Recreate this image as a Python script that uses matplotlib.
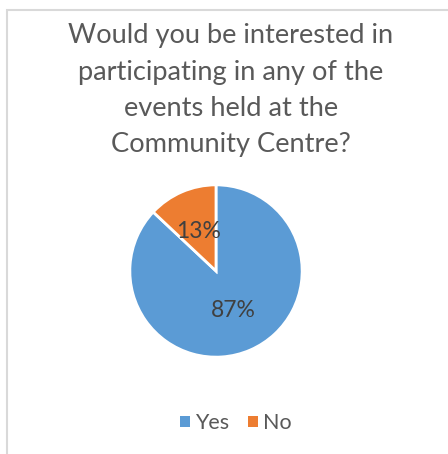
import matplotlib
matplotlib.use("Agg")
import matplotlib.pyplot as plt
from matplotlib.patches import Patch, Rectangle

labels = ["Yes", "No"]
values = [87, 13]
colors = ["#5B9BD5", "#ED7D31"]
title_lines = ["Would you be interested in",
               "participating in any of the",
               "events held at the",
               "Community Centre?"]

W, H = 448, 454
plt.rcParams['font.family'] = ['Lato', 'DejaVu Sans']

fig = plt.figure(figsize=(W / 100, H / 100), dpi=100)

# chart border (left and top edges visible)
fig.patches.append(Rectangle((7 / W, -0.1), 1.2, 1.1 - 10 / H,
                             transform=fig.transFigure, fill=False,
                             edgecolor="#d9d9d9", linewidth=1.5))

# title
baselines = [43, 80, 116, 152]
for line, yb in zip(title_lines, baselines):
    fig.text(231 / W, 1 - yb / H, line, ha="center", va="baseline",
             fontsize=19.6, color="#595959")

# pie
cx, cy, r = 216, 271, 87
ax = fig.add_axes([(cx - r) / W, (H - cy - r) / H, 2 * r / W, 2 * r / H])
wedges, texts, autotexts = ax.pie(
    values, colors=colors, startangle=90, counterclock=False,
    autopct="%1.0f%%", pctdistance=0.5,
    wedgeprops=dict(edgecolor="white", linewidth=2),
    textprops=dict(fontsize=16.5, color="#404040"))
ax.set_xlim(-1.01, 1.01)
ax.set_ylim(-1.01, 1.01)
ax.set_aspect("equal")

# legend
handles = [Patch(facecolor=c, edgecolor="none") for c in colors]
fig.legend(handles, labels, loc="center", bbox_to_anchor=(236 / W, 1 - 423 / H),
           ncol=2, frameon=False, fontsize=15.5, handlelength=0.45,
           handleheight=0.45, handletextpad=0.25, columnspacing=0.85,
           labelcolor="#595959")

fig.savefig("out.png", dpi=100)
